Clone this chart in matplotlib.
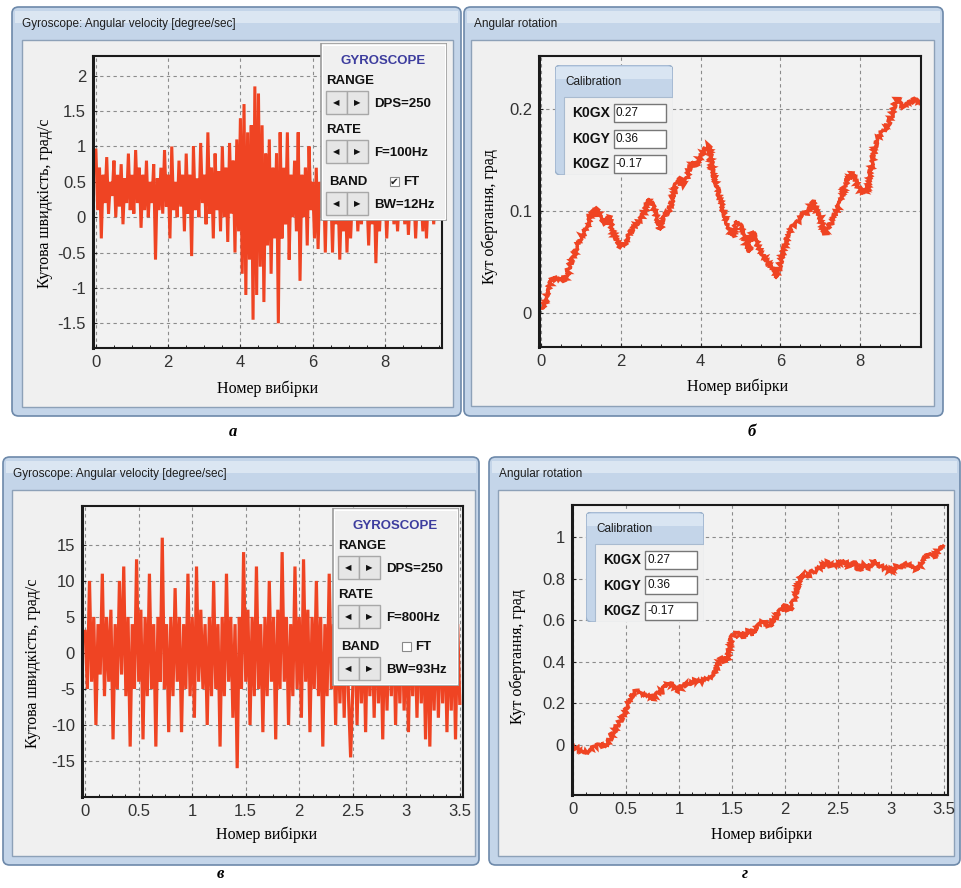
import numpy as np
import matplotlib
matplotlib.use("Agg")
import matplotlib.pyplot as plt
from matplotlib.patches import Rectangle, FancyBboxPatch
from matplotlib.ticker import FuncFormatter, MultipleLocator

plt.rcParams['font.family'] = ['Liberation Sans', 'DejaVu Sans']

# ---------------- data ----------------
# а: angular velocity, F=100Hz, BW=12Hz (sample step 0.05)
step_a = 0.05
vel_a = [0.95, 0.1, 0.7, -0.3, 0.6, 0.2, 0.85, 0.05, 0.5, 0.3,
         0.8, 0.0, 0.6, 0.15, 0.75, -0.1, 0.55, 0.2, 0.9, 0.1,
         0.6, 0.05, 0.95, 0.2, 0.7, -0.15, 0.6, 0.1, 0.8, 0.0,
         0.5, 0.2, 0.75, -0.6, 0.55, 0.1, 0.7, 0.05, 0.95, 0.15,
         0.6, -0.3, 1.0, 0.1, 0.5, 0.0, 0.8, 0.15, 0.6, -0.2,
         0.9, 0.05, 0.6, -0.55, 1.0, 0.1, 0.55, 0.0, 1.05, 0.2,
         0.6, -0.1, 1.2, 0.05, 0.7, -0.3, 0.9, 0.1, 0.65, -0.2,
         1.0, 0.0, 0.7, -0.35, 1.05, 0.05, 0.8, -0.5, 1.1, -0.2,
         1.4, -0.8, 1.6, -1.1, 1.2, -0.6, 1.3, -1.45, 1.85, -1.1,
         1.75, -0.7, 1.3, -1.2, 0.9, -0.4, 1.1, -0.8, 0.7, -0.3,
         0.9, -1.5, 1.2, -0.3, 0.7, -0.1, 1.2, -0.6, 0.6, 0.0,
         0.8, -0.2, 1.2, -0.9, 0.6, 0.0, 0.7, -0.4, 1.0, 0.1,
         0.5, -0.3, 0.7, -0.45, 0.5, 0.0, 0.6, -0.5, 0.6, 0.1,
         0.4, -0.5, 0.5, -0.1, 0.4, -0.6, 0.3, -0.2, 0.5, -0.5,
         0.4, -0.3, 0.3, 0.0, 0.5, -0.2, 0.3, -0.1, 0.4, 0.0,
         0.3, -0.4, 0.4, -0.1, 0.5, -0.65, 0.3, -0.2, 0.4, 0.0,
         0.4, -0.3, 0.3, 0.0, 0.4, -0.1, 0.3, -0.2, 0.3, 0.0,
         0.3, -0.1, 0.4, -0.25, 0.3, 0.0, 0.35, -0.3, 0.3, -0.05,
         0.3, -0.2, 0.4, -0.3, 0.3, 0.0, 0.35, -0.1, 0.3, 0.1]

# б: angular rotation for а (sample step 0.1)
step_b = 0.1
rot_b = [0.005, 0.01, 0.025, 0.035, 0.033, 0.035, 0.032, 0.045, 0.055, 0.065,
         0.075, 0.08, 0.09, 0.1, 0.102, 0.092, 0.088, 0.095, 0.08, 0.07,
         0.065, 0.068, 0.078, 0.082, 0.088, 0.092, 0.1, 0.112, 0.105, 0.095,
         0.082, 0.098, 0.1, 0.112, 0.128, 0.132, 0.125, 0.14, 0.148, 0.145,
         0.155, 0.16, 0.165, 0.14, 0.125, 0.11, 0.095, 0.085, 0.075, 0.09,
         0.085, 0.075, 0.06, 0.08, 0.07, 0.06, 0.055, 0.05, 0.045, 0.035,
         0.05, 0.065, 0.075, 0.085, 0.088, 0.092, 0.1, 0.098, 0.11, 0.1,
         0.095, 0.078, 0.085, 0.09, 0.1, 0.108, 0.125, 0.132, 0.138, 0.128,
         0.12, 0.118, 0.125, 0.148, 0.17, 0.175, 0.18, 0.185, 0.195, 0.21,
         0.205, 0.202, 0.205, 0.208, 0.21, 0.205]

# в: angular velocity, F=800Hz, BW=93Hz (sample step 0.02)
step_c = 0.02
vel_c = [3, -5, 10, -4, 5, -10, 4, -3, 11, -6,
         5, -4, 6, -12, 4, -5, 10, -3, 12, -6,
         5, -13, 4, -5, 13, -4, 6, -12, 5, -6,
         11, -5, 4, -13, 5, -4, 16, -5, 4, -11,
         5, -6, 9, -4, 5, -11, 4, -5, 11, -6,
         5, -9, 12, -4, 6, -5, 4, -10, 5, -6,
         10, -5, 4, -13, 5, -6, 11, -4, 5, -9,
         4, -16, 5, -5, 14, -4, 6, -10, 5, -6,
         12, -5, 4, -11, 5, -6, 10, -4, 5, -12,
         6, -5, 14, -4, 5, -10, 4, -6, 12, -5,
         5, -9, 13, -4, 6, -11, 5, -5, 10, -6,
         5, -13, 4, -6, 11, -5, 4, -10, 5, -7,
         4, -9, 5, -6, -14.5, -5, 4, -10, 5, -7,
         4, -11, 5, -6, 4, -9, 5, -7, 4, -12,
         5, -8, 4, -6, 5, -10, 4, -7, 5, -8,
         4, -11, 5, -6, 4, -9, 5, -7, 4, -12,
         5, -13, 4, -8, 5, -9, 4, -7, 5, -11,
         4, -8, 5, -12, 4, -7]

# г: angular rotation for в (sample step 0.05)
step_d = 0.05
rot_d = [0.0, -0.02, -0.035, -0.03, -0.01, 0.0, -0.01, 0.03, 0.08, 0.12,
         0.17, 0.24, 0.26, 0.25, 0.24, 0.22, 0.25, 0.27, 0.3, 0.28,
         0.26, 0.3, 0.29, 0.31, 0.3, 0.32, 0.33, 0.36, 0.42, 0.4,
         0.52, 0.54, 0.52, 0.55, 0.53, 0.58, 0.6, 0.57, 0.6, 0.64,
         0.67, 0.65, 0.72, 0.82, 0.81, 0.83, 0.84, 0.86, 0.88, 0.86,
         0.87, 0.89, 0.86, 0.88, 0.84, 0.87, 0.85, 0.89, 0.86, 0.85,
         0.83, 0.86, 0.85, 0.87, 0.86, 0.84, 0.88, 0.92, 0.9, 0.94,
         0.95]

ticks_a_x = [0, 2, 4, 6, 8]
ticks_a_y = [-1.5, -1, -0.5, 0, 0.5, 1, 1.5, 2]
ticks_b_y = [0, 0.1, 0.2]
ticks_c_x = [0, 0.5, 1, 1.5, 2, 2.5, 3, 3.5]
ticks_c_y = [-15, -10, -5, 0, 5, 10, 15]
ticks_d_y = [0, 0.2, 0.4, 0.6, 0.8, 1]

calib_names = ['K0GX', 'K0GY', 'K0GZ']
calib_vals = ['0.27', '0.36', '-0.17']

title_vel = 'Gyroscope: Angular velocity [degree/sec]'
title_rot = 'Angular rotation'
ylabel_vel = 'Кутова швидкість, град/с'
ylabel_rot = 'Кут обертання, град'
xlabel = 'Номер вибірки'

# ---------------- layout helpers (pixel coords, origin top-left) ----------------
W, H = 962, 888
fig = plt.figure(figsize=(W / 100, H / 100), dpi=100, facecolor='white')
RED = '#ef4423'


def fx(x):
    return x / W


def fy(y):
    return 1 - y / H


def rect(x0, y0, x1, y1):
    return [fx(x0), fy(y1), (x1 - x0) / W, (y1 - y0) / H]


def window(outer, client, title):
    x0, y0, x1, y1 = outer
    fig.add_artist(FancyBboxPatch((fx(x0), fy(y1)), (x1 - x0) / W, (y1 - y0) / H,
                                  boxstyle='round,pad=0,rounding_size=0.007',
                                  transform=fig.transFigure, fc='#c4d5e9',
                                  ec='#6d89aa', lw=1.2, zorder=-5))
    # lighter sheen on the title bar
    fig.add_artist(Rectangle((fx(x0 + 3), fy(y0 + 16)), (x1 - x0 - 6) / W, 12 / H,
                             transform=fig.transFigure, fc='#dbe6f2', ec='none',
                             zorder=-5))
    cx0, cy0, cx1, cy1 = client
    fig.add_artist(Rectangle((fx(cx0), fy(cy1)), (cx1 - cx0) / W, (cy1 - cy0) / H,
                             transform=fig.transFigure, fc='#f0f0f0',
                             ec='#8da1b8', lw=1, zorder=-4))
    fig.text(fx(x0 + 10), fy(y0 + 17), title, fontsize=8.5, va='center',
             color='#1e1e1e', zorder=-3)


def plot_panel(box, xs, ys, xlim, ylim, xticks, yticks, xminor, ylabel, lw,
               ylab_px, xlab_px, fuzzy=False):
    ax = fig.add_axes(rect(*box))
    ax.set_facecolor('#f2f2f2')
    line, = ax.plot(xs, ys, color=RED, lw=lw, solid_joinstyle='miter')
    if fuzzy:
        # the logger trace is drawn with a hairy, jittery stroke
        line.set_sketch_params(scale=1.8, length=2.5, randomness=3)
    ax.set_xlim(xlim)
    ax.set_ylim(ylim)
    ax.set_xticks(xticks)
    ax.set_yticks(yticks)
    ax.xaxis.set_minor_locator(MultipleLocator(xminor))
    fmt = FuncFormatter(lambda v, p: f'{v:g}')
    ax.xaxis.set_major_formatter(fmt)
    ax.yaxis.set_major_formatter(fmt)
    ax.grid(True, ls=(0, (3, 3)), color='#8c8c8c', lw=0.8)
    ax.tick_params(direction='in', length=3, labelsize=12, pad=5,
                   colors='#222222', labelcolor='#333333')
    ax.tick_params(which='minor', direction='in', length=2)
    for s in ax.spines.values():
        s.set_linewidth(1.5)
        s.set_color('#1a1a1a')
    ax.spines['left'].set_linewidth(2.2)
    bx0, by0, bx1, by1 = box
    ax.set_ylabel(ylabel, family='Liberation Serif', fontsize=11.5,
                  va='center', ha='center')
    ax.yaxis.set_label_coords((ylab_px[0] - bx0) / (bx1 - bx0),
                              (by1 - ylab_px[1]) / (by1 - by0))
    ax.set_xlabel(xlabel, family='Liberation Serif', fontsize=11.5,
                  va='center', ha='center')
    ax.xaxis.set_label_coords((xlab_px[0] - bx0) / (bx1 - bx0),
                              (by1 - xlab_px[1]) / (by1 - by0))
    return ax


def gyro_box(x0, y0, rate, bw, ft_on):
    bx = fig.add_axes(rect(x0, y0, x0 + 127, y0 + 178), zorder=5)
    bx.set_xlim(0, 127)
    bx.set_ylim(178, 0)
    bx.axis('off')
    bx.add_patch(Rectangle((0.5, 0.5), 126, 177, fc='#f0f0f0', ec='#9a9a9a', lw=1.2))
    bx.add_patch(Rectangle((2, 2), 123, 174, fc='none', ec='white', lw=0.8))
    bold = dict(fontsize=9.5, fontweight='bold', color='#111111', va='center')
    bx.text(63, 18, 'GYROSCOPE', ha='center', fontsize=9.5, fontweight='bold',
            color='#3d3d9e', va='center')
    rows = [('RANGE', 6, 38, 'DPS=250'), ('RATE', 6, 87, rate), ('BAND', 9, 139, bw)]
    for name, nx, ny, value in rows:
        bx.text(nx, ny, name, ha='left', **bold)
        yb = ny + 10
        for k in range(2):
            bx.add_patch(Rectangle((6 + 21 * k, yb), 21, 23, fc='#e6e6e6',
                                   ec='#a8a8a8', lw=1))
            bx.text(16.5 + 21 * k, yb + 11.5, '◀' if k == 0 else '▶',
                    ha='center', va='center', fontsize=6, color='#111111',
                    family='DejaVu Sans')
        bx.text(54, yb + 13, value, ha='left', **bold)
    bx.add_patch(Rectangle((70, 134), 9, 9, fc='white', ec='#8a8a8a', lw=0.8))
    if ft_on:
        bx.text(74.5, 138.5, '✔', ha='center', va='center', fontsize=7.5,
                color='#222222', family='DejaVu Sans')
    bx.text(83, 139, 'FT', ha='left', **bold)


def calib_box(x0, y0):
    cx = fig.add_axes(rect(x0, y0, x0 + 118, y0 + 110), zorder=5)
    cx.set_xlim(0, 118)
    cx.set_ylim(110, 0)
    cx.axis('off')
    cx.add_patch(FancyBboxPatch((0, 0), 118, 110, boxstyle='round,pad=0,rounding_size=6',
                                fc='#c4d5e9', ec='#9bb1cb', lw=1))
    cx.add_patch(Rectangle((1, 2), 116, 12, fc='#d9e5f2', ec='none'))
    cx.add_patch(Rectangle((9, 32), 109, 78, fc='#f0f0f0', ec='#a9bbd0', lw=0.8))
    cx.text(10, 17, 'Calibration', fontsize=8.5, va='center', color='#1e1e1e')
    for i, (name, val) in enumerate(zip(calib_names, calib_vals)):
        yy = 48 + 25.5 * i
        cx.text(17, yy, name, fontsize=10, fontweight='bold', va='center',
                color='#111111')
        cx.add_patch(Rectangle((59, yy - 9), 52, 18, fc='white', ec='#777777', lw=1))
        cx.text(61, yy, val, fontsize=8.5, va='center', color='#111111')


# ---------------- windows ----------------
window((12, 7, 461, 416), (22, 40, 453, 407), title_vel)
window((464, 7, 943, 416), (471, 40, 934, 406), title_rot)
window((3, 457, 479, 865), (12, 490, 475, 856), title_vel)
window((489, 457, 960, 865), (498, 490, 954, 856), title_rot)

# ---------------- plots ----------------
xa = np.arange(len(vel_a)) * step_a
plot_panel((93, 56, 442, 348), xa, vel_a, (-0.08, 9.58), (-1.85, 2.28),
           ticks_a_x, ticks_a_y, 0.5, ylabel_vel, 2.2, (45, 203), (268, 389))

xb = np.arange(len(rot_b)) * step_b
plot_panel((539, 56, 921, 347), xb, rot_b, (-0.05, 9.52), (-0.033, 0.252),
           ticks_a_x, ticks_b_y, 0.5, ylabel_rot, 2.4, (490, 217), (738, 387),
           fuzzy=True)

xc = np.arange(len(vel_c)) * step_c
plot_panel((82, 506, 463, 797), xc, vel_c, (-0.03, 3.53), (-20, 20.4),
           ticks_c_x, ticks_c_y, 0.125, ylabel_vel, 2.3, (33, 663), (267, 835))

xd = np.arange(len(rot_d)) * step_d
plot_panel((572, 505, 948, 795), xd, rot_d, (-0.01, 3.54), (-0.24, 1.154),
           ticks_c_x, ticks_d_y, 0.125, ylabel_rot, 2.4, (518, 657), (762, 835),
           fuzzy=True)

# ---------------- overlays ----------------
gyro_box(320, 43, 'F=100Hz', 'BW=12Hz', True)
gyro_box(332, 508, 'F=800Hz', 'BW=93Hz', False)
calib_box(555, 65)
calib_box(586, 512)

# ---------------- panel letters ----------------
for lx, ly, letter in [(233, 432, 'а'), (752, 432, 'б'), (220, 874, 'в'), (745, 874, 'г')]:
    fig.text(fx(lx), fy(ly), letter, fontsize=12, fontweight='bold', style='italic',
             family='Liberation Serif', ha='center', va='center')

fig.savefig('out.png', dpi=100, facecolor='white')
